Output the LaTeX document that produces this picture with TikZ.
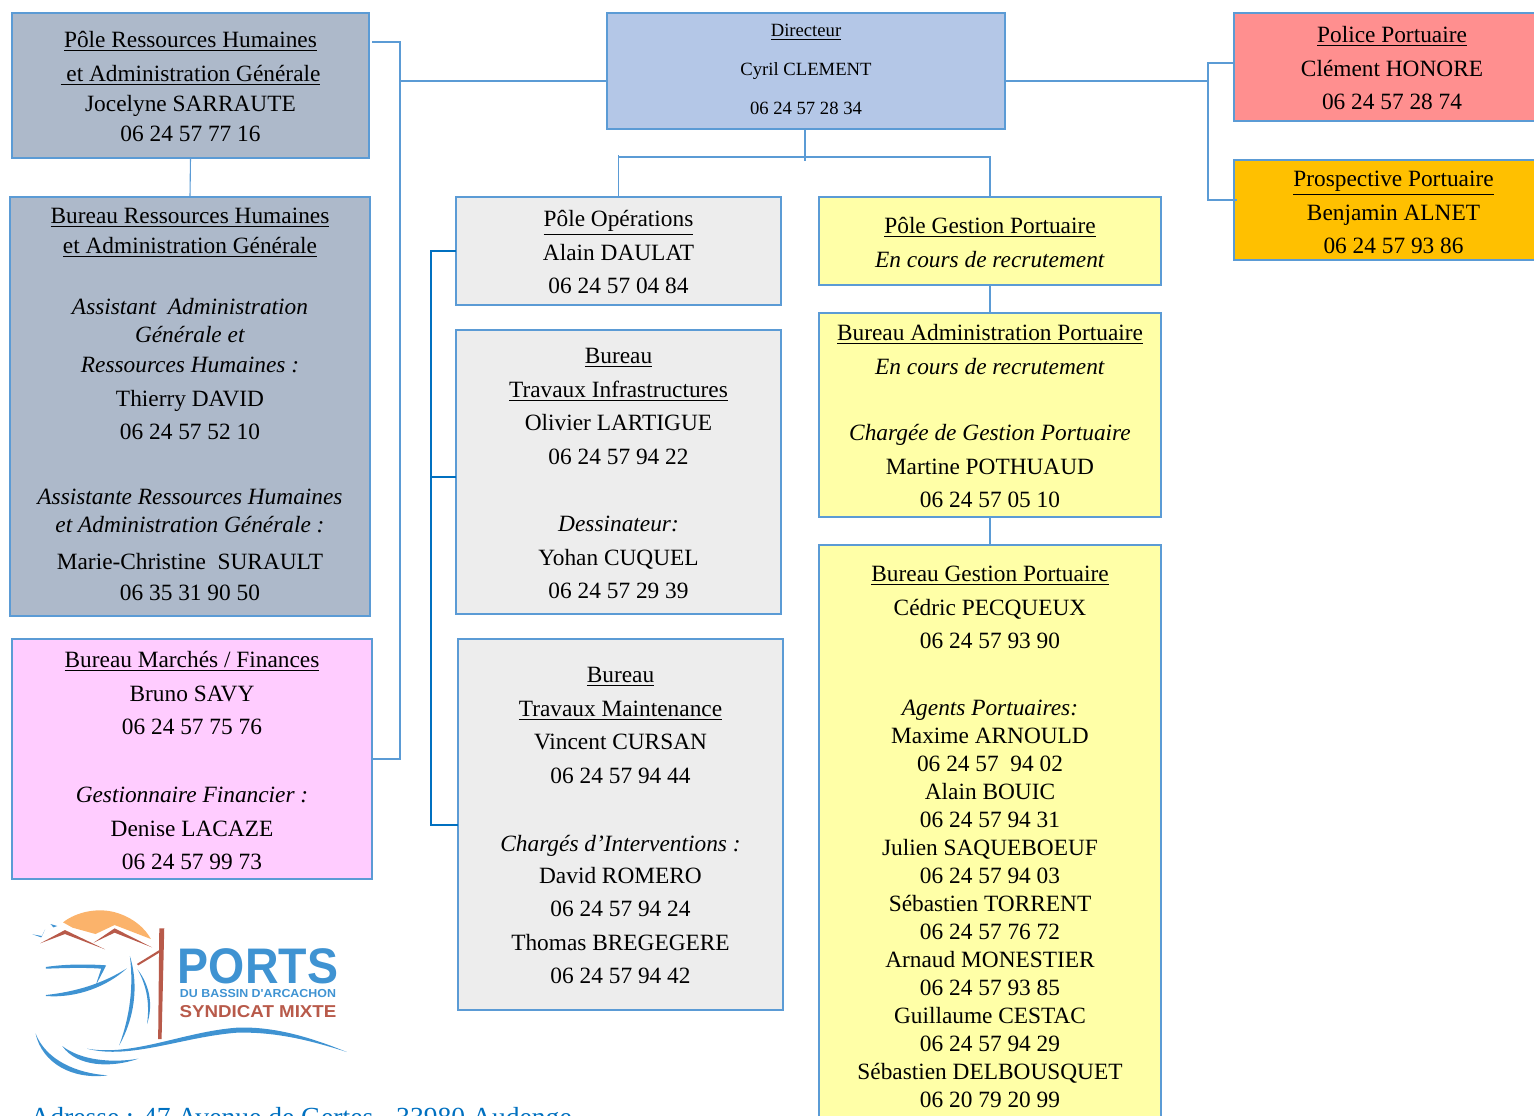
\documentclass[tikz,border=0pt]{standalone}
\usepackage{fontspec}
\setmainfont{Liberation Serif}
\newfontfamily\logofont{Liberation Sans}

\definecolor{linkblue}{HTML}{5B9BD5}
\definecolor{darklink}{HTML}{0070C0}
\definecolor{greyblue}{HTML}{ADB9CA}
\definecolor{paleblue}{HTML}{B4C7E7}
\definecolor{palepink}{HTML}{FFCCFF}
\definecolor{palegrey}{HTML}{EDEDED}
\definecolor{paleyellow}{HTML}{FFFFA7}
\definecolor{policered}{HTML}{FF8F8F}
\definecolor{orangebox}{HTML}{FFC000}
\definecolor{logoblue}{HTML}{3F93D2}
\definecolor{logored}{HTML}{B85A4A}
\definecolor{logosun}{HTML}{FBB36B}

\newcommand{\padtop}[1]{\rule{0pt}{\dimexpr#1pt+0.75pt\relax}}
\newcommand{\padbot}[1]{\rule[\dimexpr-#1pt+1pt\relax]{0pt}{0pt}}

\tikzset{
	box/.style = {draw = linkblue, line width = 1pt, outer sep = 0pt, inner sep = 0pt,
		anchor = north west, align = flush center, font = \fontsize{11.67}{16.75}\selectfont},
	link/.style = {draw = linkblue, line width = 0.55pt},
	darkbracket/.style = {draw = darklink, line width = 0.8pt},
}

\begin{document}
\begin{tikzpicture}[x = 0.5pt, y = -0.5pt]
	\useasboundingbox (0,0) rectangle (1534,1115);

	\node [box, fill = greyblue, text width = 178.5pt] (polerh) at (12,13) {\padtop{16.5}\underline{Pôle Ressources Humaines}\\[0.25pt]
		\underline{\ et Administration Générale}\\[-1.75pt]
		Jocelyne SARRAUTE\\[-1.75pt]
		06 24 57 77 16\padbot{9}};
	\node [box, fill = greyblue, text width = 180pt] (burrh) at (10,197) {\padtop{12.5}\underline{Bureau Ressources Humaines}\\[-1.75pt]
		\underline{et Administration Générale}\\[13.75pt]
		\textit{Assistant \ Administration}\\[-2.75pt]
		\textit{Générale et}\\[-1.75pt]
		\textit{Ressources Humaines :}\\
		Thierry DAVID\\
		06 24 57 52 10\\[15.75pt]
		\textit{Assistante Ressources Humaines}\\[-2.75pt]
		\textit{et Administration Générale :}\\[1.75pt]
		Marie-Christine \ SURAULT\\[-1.25pt]
		06 35 31 90 50\padbot{8.5}};
	\node [box, fill = palepink, text width = 180pt] (marches) at (12,639) {\padtop{13.5}\underline{Bureau Marchés / Finances}\\
		Bruno SAVY\\
		06 24 57 75 76\\[17.25pt]
		\textit{Gestionnaire Financier :}\\
		Denise LACAZE\\
		06 24 57 99 73\padbot{5.5}};
	\node [box, fill = paleblue, text width = 199pt, font = \fontsize{9.33}{19.5}\selectfont] (directeur) at (607,13) {\padtop{11}\underline{Directeur}\\
		Cyril CLEMENT\\
		06 24 57 28 34\padbot{8}};
	\node [box, fill = palegrey, text width = 162.5pt] (operations) at (456,197) {\padtop{14}\underline{Pôle Opérations}\\
		Alain DAULAT\\
		06 24 57 04 84\padbot{6.5}};
	\node [box, fill = palegrey, text width = 162.5pt] (infra) at (456,330) {\padtop{16}\underline{Bureau}\\
		\underline{Travaux Infrastructures}\\
		Olivier LARTIGUE\\
		06 24 57 94 22\\[17pt]
		\textit{Dessinateur:}\\
		Yohan CUQUEL\\
		06 24 57 29 39\padbot{8.75}};
	\node [box, fill = palegrey, text width = 162.5pt] (maintenance) at (458,639) {\padtop{21}\underline{Bureau}\\
		\underline{Travaux Maintenance}\\
		Vincent CURSAN\\
		06 24 57 94 44\\[17.25pt]
		\textit{Chargés d’Interventions :}\\[-0.75pt]
		David ROMERO\\
		06 24 57 94 24\\
		Thomas BREGEGERE\\
		06 24 57 94 42\padbot{14}};
	\node [box, fill = paleyellow, text width = 171pt] (polegestion) at (819,197) {\padtop{17.5}\underline{Pôle Gestion Portuaire}\\
		\textit{En cours de recrutement}\padbot{10}};
	\node [box, fill = paleyellow, text width = 171pt] (buradmin) at (819,313) {\padtop{13}\underline{Bureau Administration Portuaire}\\
		\textit{En cours de recrutement}\\[16.5pt]
		\textit{Chargée de Gestion Portuaire}\\
		Martine POTHUAUD\\
		06 24 57 05 10\padbot{5.5}};
	\node [box, fill = paleyellow, text width = 171pt] (burgestion) at (819,545) {\padtop{17.5}\underline{Bureau Gestion Portuaire}\\
		Cédric PECQUEUX\\
		06 24 57 93 90\\[16.75pt]
		\textit{Agents Portuaires:}\\[-2.75pt]
		Maxime ARNOULD\\[-2.75pt]
		06 24 57 \ 94 02\\[-2.75pt]
		Alain BOUIC\\[-2.75pt]
		06 24 57 94 31\\[-2.75pt]
		Julien SAQUEBOEUF\\[-2.75pt]
		06 24 57 94 03\\[-2.75pt]
		Sébastien TORRENT\\[-2.75pt]
		06 24 57 76 72\\[-2.75pt]
		Arnaud MONESTIER\\[-2.75pt]
		06 24 57 93 85\\[-2.75pt]
		Guillaume CESTAC\\[-2.75pt]
		06 24 57 94 29\\[-2.75pt]
		Sébastien DELBOUSQUET\\[-2.75pt]
		06 20 79 20 99\padbot{17}};
	\node [box, fill = policered, text width = 158pt] (police) at (1234,13) {\padtop{14}\underline{Police Portuaire}\\
		Clément HONORE\\
		06 24 57 28 74\padbot{6.5}};
	\node [box, fill = orangebox, text width = 159.5pt] (prospective) at (1234,160) {\padtop{12.5}\underline{Prospective Portuaire}\\
		Benjamin ALNET\\
		06 24 57 93 86\padbot{4}};

	% left side
	\coordinate (leftfrom) at (372,42);
	\coordinate (leftmid) at (400,81);
	\coordinate (leftto) at (372,759);
	\draw [link] (polerh.south) -- (burrh.north);
	\draw [link] (leftfrom) -- (leftfrom -| leftmid) -- (leftto -| leftmid) -- (leftto);
	\draw [link] (leftmid) -- (leftmid -| directeur.west);

	% right side
	\coordinate (rightmid) at (1208,81);
	\coordinate (rightup) at (1234,63);
	\coordinate (rightdown) at (1237,200);
	\draw [link] (rightmid -| directeur.east) -- (rightmid);
	\draw [link] (rightup) -- (rightup -| rightmid) -- (rightdown -| rightmid) -- (rightdown);

	% down from the director
	\coordinate (downbar) at (805,157);
	\draw [link] (directeur.south -| downbar) -- ([yshift = -2pt]downbar);
	\draw [link] (operations.north) -- ([yshift = 1pt]operations.north |- downbar);
	\draw [link] (operations.north |- downbar) -- (polegestion.north |- downbar) -- (polegestion.north);
	\draw [link] (polegestion.south) -- (buradmin.north);
	\draw [link] (buradmin.south) -- (burgestion.north);

	% works bracket
	\coordinate (workstop) at (431,251);
	\coordinate (worksmid) at (431,477);
	\coordinate (worksend) at (431,825);
	\draw [darkbracket] (workstop -| operations.west) -- (workstop) -- (worksend) -- (worksend -| maintenance.west);
	\draw [darkbracket] (worksmid) -- (worksmid -| infra.west);

	% logo
	\begin{scope}[shift = {(0,890)}, xscale = 0.382, yscale = 1/3]
		\fill [logosun] (165,97) .. controls (200,65) and (260,50) .. (310,70) .. controls (350,85) and (380,115) .. (395,147) -- (300,105) -- (250,132) -- (190,113) -- cycle;
		\fill [logored] (105,160) -- (170,120) -- (275,178) -- (170,132) -- cycle;
		\fill [logored] (245,158) -- (300,115) -- (398,172) -- (300,128) -- cycle;
		\fill [logored] (417,115) -- (430,115) -- (423,447) -- (414,447) -- cycle;
		\fill [logored] (358,222) -- (420,178) -- (420,186) -- (362,226) -- cycle;
		\fill [logoblue] (85,133) -- (110,138) -- (118,118) -- (108,142) -- cycle;
		\fill [logoblue] (132,102) -- (150,108) -- (140,112) -- cycle;
		\fill [logoblue] (120,231) .. controls (170,222) and (230,222) .. (278,226) -- (250,288) -- (265,236) .. controls (220,232) and (170,234) .. (120,236) -- cycle;
		\fill [logoblue] (120,315) .. controls (200,305) and (270,280) .. (332,235) .. controls (280,290) and (200,325) .. (120,318) -- cycle;
		\fill [logoblue] (340,198) .. controls (365,290) and (350,390) .. (312,466) .. controls (340,380) and (350,290) .. (340,198) -- cycle;
		\fill [logoblue] (360,238) .. controls (395,290) and (400,350) .. (385,402) .. controls (392,340) and (385,290) .. (360,238) -- cycle;
		\fill [logoblue] (228,476) .. controls (350,500) and (480,425) .. (620,413) .. controls (720,408) and (820,445) .. (908,486) .. controls (810,450) and (720,425) .. (620,428) .. controls (480,440) and (340,510) .. (228,476) -- cycle;
		\fill [logoblue] (163,468) .. controls (210,510) and (290,520) .. (362,506) .. controls (290,535) and (200,530) .. (163,468) -- cycle;
		\fill [logoblue] (93,430) .. controls (120,510) and (200,550) .. (282,556) .. controls (190,570) and (110,520) .. (93,430) -- cycle;
	\end{scope}
	\node [text = logoblue, font = \logofont\bfseries\fontsize{25}{25}\selectfont, xscale = 0.93, inner sep = 0pt] (logoports) at (258,966) {PORTS};
	\node [text = logoblue, font = \logofont\bfseries\fontsize{5.8}{5.8}\selectfont, xscale = 1.07, inner sep = 0pt] (logobassin) at (258,993) {DU BASSIN D'ARCACHON};
	\node [text = logored, font = \logofont\bfseries\fontsize{8.6}{8.6}\selectfont, xscale = 1.09, inner sep = 0pt] (logosyndicat) at (258,1012) {SYNDICAT MIXTE};

	\node [text = darklink, font = \fontsize{13.8}{15}\selectfont, anchor = base west, inner sep = 0pt] (adresse) at (30,1126) {Adresse : 47 Avenue de Gertes - 33980 Audenge};
\end{tikzpicture}
\end{document}
